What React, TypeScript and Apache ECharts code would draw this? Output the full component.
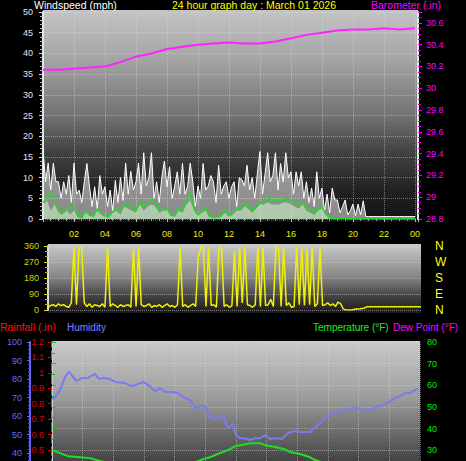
import React, { useEffect, useRef } from 'react';
import * as echarts from 'echarts';

const FONT = '"Liberation Sans", Arial, sans-serif';

// ---- Top panel: wind (10-min gust, 15-min average) and barometer ----
const gustStepMin = 10;
const gust = [
  17, 9, 13.5, 7, 13.5, 9,
  9, 5, 9, 6, 10.5, 4,
  13.5, 6, 7, 4, 9, 13.4,
  7.8, 3, 7.8, 2.5, 10.5, 6,
  7.8, 3, 7, 2, 9.3, 4,
  10, 4.5, 13.5, 6, 11.5, 7,
  9, 13.5, 6, 16, 8, 10,
  16, 5, 9, 4, 10, 14,
  7.8, 12.6, 5, 8, 11.4, 6,
  13.4, 6, 8, 13.5, 9, 3,
  8, 5, 13.4, 7, 8, 10.5,
  9, 4, 13, 6, 8, 9,
  5, 7.8, 9, 3, 10, 9.5,
  8, 13, 7, 10, 5, 11,
  16.3, 6, 11, 16, 9, 10.5,
  16, 7, 13.4, 9, 16, 10,
  11.4, 6, 11.4, 8, 11.4, 5,
  9, 4, 7.5, 3, 11.4, 5,
  7.5, 2, 6, 1.5, 7.5, 4.6,
  4.6, 1.5, 3, 4.6, 1, 2,
  3.6, 0.8, 3.6, 1, 4.4, 0.6,
  0.6, 0.6, 0.6, 0.6, 0.6, 0.6,
  0.6, 0.6, 0.6, 0.6, 0.6, 0.6,
  0.6, 0.6, 0.6, 0.6, 0.6, 0.6,
  0.6,
];

const avgStepMin = 15;
const windAvgFill = [
  3, 4.5, 2, 3.5,
  1.5, 1, 2.5, 1,
  2, 0.5, 0.3, 1.5,
  0.8, 0.5, 2, 1,
  0.5, 0.3, 1.5, 2,
  1, 3, 2.5, 2,
  1.5, 3.5, 2, 3,
  3.5, 3, 1.5, 2,
  2, 0.8, 0.5, 2,
  1.5, 3.5, 4.5, 2,
  0.8, 1.5, 2, 0.5,
  0.3, 0.3, 0.5, 1.5,
  0.5, 1, 2, 2,
  3, 2.5, 1.5, 2.5,
  3.5, 3.5, 4, 3.5,
  3.5, 3.5, 4, 4,
  3.5, 3, 2.5, 3.5,
  2, 1.5, 1, 2,
  2.5, 1, 0.2, 0.1,
  0, 0, 0, 0,
  0, 0, 0, 0,
  0, 0, 0, 0,
  0, 0, 0, 0,
  0, 0, 0, 0,
  0,
];

const windAvgLine = [
  4.0, 5, 6.2, 5,
  2.2, 1.5, 2.0, 2.8,
  3, 0.6, 0.2, 2.0,
  1, 0.6, 2.4, 1.5,
  0.8, 0.5, 1.8, 2.2,
  1.8, 3.6, 3.4, 2.6,
  2.0, 4.2, 3, 3.6,
  4.6, 4.0, 2.2, 2.4,
  2.8, 1, 0.8, 2.6,
  2.0, 4.5, 6.2, 2.5,
  1, 1.8, 2.6, 0.6,
  0.3, 0.4, 0.8, 2.2,
  0.8, 1.5, 2.8, 2.6,
  3.8, 3.0, 1.8, 3.2,
  4.0, 4.2, 5.4, 4.2,
  4.6, 4.4, 4.6, 5,
  4.6, 3.8, 3.2, 4.2,
  2.4, 2.2, 1.2, 2.4,
  3, 1.2, 0.2, 0.1,
  0, 0.3, 0.2, 0,
  0, 0, 0, 0,
  0, 0, 0, 0,
  0, 0, 0, 0,
  0, 0, 0, 0,
  0,
];

const baroHours = [0, 1, 2, 3, 4, 5, 6, 7, 7.5, 8, 9, 10, 11, 12, 13, 14, 15, 16, 17, 18, 19, 20, 21, 22, 23, 24];
const baroValues = [30.17, 30.17, 30.18, 30.19, 30.2, 30.24, 30.29, 30.32, 30.34, 30.36, 30.38, 30.4, 30.41, 30.42, 30.41, 30.41, 30.43, 30.46, 30.49, 30.51, 30.53, 30.54, 30.54, 30.55, 30.54, 30.55];

const hourTickLabels = ['00', '02', '04', '06', '08', '10', '12', '14', '16', '18', '20', '22', '00'];

// ---- Middle panel: wind direction (10-min) ----
const dirStepMin = 10;
const windDir = [
  15, 25, 30, 20, 35, 25,
  30, 20, 15, 40, 350, 30,
  355, 350, 40, 20, 35, 15,
  30, 25, 20, 35, 15, 355,
  20, 35, 25, 15, 30, 20,
  25, 30, 15, 345, 20, 350,
  30, 20, 25, 35, 15, 25,
  20, 30, 15, 25, 35, 20,
  25, 15, 30, 350, 20, 30,
  15, 25, 35, 20, 300, 350,
  355, 20, 350, 25, 30, 15,
  345, 355, 20, 30, 15, 25,
  330, 20, 350, 40, 355, 30,
  25, 15, 30, 355, 20, 350,
  25, 30, 60, 20, 355, 350,
  20, 350, 25, 40, 15, 20,
  355, 30, 350, 25, 345, 30,
  355, 20, 35, 350, 25, 30,
  40, 25, 35, 20, 45, 35,
  5, 2, 0, 0, 3, 5,
  5, 8, 10, 18, 18, 18,
  18, 18, 18, 18, 18, 18,
  18, 18, 18, 18, 18, 18,
  18, 18, 18, 18, 18, 18,
  18,
];
const compassLabels = ['N', 'E', 'S', 'W', 'N'];

// ---- Bottom panel: humidity, rainfall, temperature, dew point ----
const humHours = [0, 0.2, 0.52, 0.85, 1.11, 1.3, 1.57, 1.96, 2.35, 2.54, 2.8, 3.07, 3.33, 3.78, 4.11, 4.76, 5.22, 5.61, 5.94, 6.39, 6.72, 7.05, 7.37, 7.83, 8.22, 8.55, 9.0, 9.33, 9.65, 9.98, 10.3, 10.63, 10.96, 11.15, 11.48, 11.68, 11.81, 12.0, 12.26, 12.59, 12.92, 13.24, 13.57, 13.9, 14.22, 14.55, 15.0, 15.39, 15.85, 16.18, 16.5, 16.83, 17.16, 17.48, 17.81, 18.13, 18.46, 18.79, 19.11, 19.44, 19.77, 20.09, 20.42, 20.74, 21.07, 21.4, 21.72, 22.05, 22.37, 22.7, 23.03, 23.35, 23.68, 23.87];
const humValues = [69.2, 70, 74, 81, 84, 82, 79, 80.5, 80.5, 81.6, 82.7, 80, 80.5, 80, 78.4, 77.8, 76, 77.3, 78.4, 76, 73.5, 75, 73, 73, 72.4, 70.3, 68.6, 64, 65.4, 65, 59.5, 58.4, 59.5, 60.5, 53.5, 55, 56, 49.7, 48, 48, 47, 48, 48, 49.7, 47.6, 48, 47.6, 50.8, 52, 51.4, 51.4, 51.4, 54, 56, 59, 60.5, 61.6, 63.2, 63.2, 63.8, 64.3, 63.8, 63.2, 62.7, 64.9, 65.4, 66.5, 68, 69.7, 70.8, 72.4, 72.4, 74, 75];

const tempHours = [0, 0.52, 1.04, 1.83, 2.48, 3.13, 3.78, 5.09, 6.39, 7.7, 9.0, 9.85, 10.3, 10.96, 11.61, 11.81, 12.26, 12.92, 13.57, 13.9, 14.55, 15.2, 15.52, 16.18, 16.83, 17.16, 17.8, 18.8, 20.1, 21.4, 22.7, 23.87];
const tempValues = [30, 28.6, 27.2, 26.7, 26.3, 25, 24, 23, 22.5, 22.5, 23.5, 25.8, 26.7, 28.6, 30.4, 31.4, 32.3, 33.2, 33.2, 32.3, 31.4, 30.4, 29.1, 28.2, 26.7, 25.4, 24, 22.5, 21, 20, 19, 18.5];

const dewHours = [0, 3, 6, 9, 12, 15, 18, 21, 24];
const dewValues = [20, 19, 18, 18, 17, 16, 16, 17, 17];

const rainHours = [0, 6, 12, 18, 24];
const rainValues = [0, 0, 0, 0, 0];

const stepPairs = (vals: number[], stepMin: number) => vals.map((v, i) => [(i * stepMin) / 60, v]);
const zipPairs = (hs: number[], vs: number[]) => hs.map((h, i) => [h, vs[i]]);

export default function App() {
  const ref = useRef<HTMLDivElement>(null);
  useEffect(() => {
    if (!ref.current) return;
    const chart = echarts.init(ref.current, undefined, { renderer: 'svg' });
    const grad = (stops: [number, string][]) =>
      new echarts.graphic.LinearGradient(0, 0, 0, 1, stops.map(([offset, color]) => ({ offset, color })));
    const dotted = { type: 'dotted' as const, color: 'rgba(225,225,225,0.45)', width: 1 };
    const hiddenX = (gridIndex: number, min: number, max: number) => ({
      type: 'value', gridIndex, min, max,
      axisLine: { show: false }, axisTick: { show: false }, axisLabel: { show: false }, splitLine: { show: false },
    });
    const g = (left: number, top: number, width: number, height: number) => ({
      left, top, width, height, containLabel: false, outerBoundsMode: 'none',
    });
    const fmtAbove = (lo: number) => (v: number) => (v < lo ? '' : String(+v.toFixed(2)));

    const option: any = {
      animation: false,
      backgroundColor: '#000',
      textStyle: { fontFamily: FONT },
      grid: [g(43, 12, 375, 207), g(48, 246, 373, 64), g(52, 342, 368, 185), g(52, 342, 368, 173)],
      xAxis: [
        {
          type: 'value', gridIndex: 0, min: 0, max: 24.2, interval: 2,
          axisLine: { show: false },
          axisTick: { show: true, length: 3, lineStyle: { color: '#bbb' } },
          minorTick: { show: true, splitNumber: 4, length: 2, lineStyle: { color: '#999' } },
          axisLabel: {
            color: '#f0f000', fontSize: 9, fontFamily: FONT, margin: 10,
            formatter: (v: number) => (v > 0 && v <= 24 && Math.abs(v % 2) < 1e-6 ? hourTickLabels[Math.round(v / 2)] : ''),
          },
          splitLine: { show: true, lineStyle: dotted },
        },
        hiddenX(1, 0, 24),
        {
          type: 'value', gridIndex: 2, min: 0, max: 24, interval: 2,
          axisLine: { show: false }, axisTick: { show: false }, axisLabel: { show: false },
          splitLine: { show: true, lineStyle: dotted },
        },
        hiddenX(3, 0, 24),
      ],
      yAxis: [
        {
          type: 'value', gridIndex: 0, min: 0, max: 50, interval: 5, position: 'left',
          axisLine: { show: true, lineStyle: { color: '#e8e8e8', width: 2 } },
          axisTick: { show: true, length: 4, lineStyle: { color: '#ddd' } },
          minorTick: { show: true, splitNumber: 5, length: 3, lineStyle: { color: '#bbb' } },
          axisLabel: { color: '#e4e4f0', fontSize: 9, fontFamily: FONT, margin: 10 },
          splitLine: { show: true, lineStyle: dotted },
        },
        {
          type: 'value', gridIndex: 0, min: 28.8, max: 30.7, interval: 0.2, position: 'right',
          axisLine: { show: true, lineStyle: { color: '#e8e8e8', width: 2 } },
          axisTick: { show: true, length: 4, lineStyle: { color: '#ff00ff' } },
          minorTick: { show: true, splitNumber: 4, length: 3, lineStyle: { color: '#cc00cc' } },
          axisLabel: {
            color: '#ff00ff', fontSize: 9, fontFamily: FONT, margin: 8,
            formatter: (v: number) => (v > 30.65 ? '' : String(+v.toFixed(2))),
          },
          splitLine: { show: false },
        },
        {
          type: 'value', gridIndex: 1, min: 0, max: 360, interval: 90, position: 'left',
          axisLine: { show: true, lineStyle: { color: '#dddddd', width: 2 } },
          axisTick: { show: true, length: 4, lineStyle: { color: '#d8d800' } },
          minorTick: { show: true, splitNumber: 3, length: 3, lineStyle: { color: '#b8b800' } },
          axisLabel: { color: '#d0d400', fontSize: 9, fontFamily: FONT, margin: 9 },
          splitLine: { show: true, lineStyle: dotted },
        },
        {
          type: 'value', gridIndex: 1, min: 0, max: 360, interval: 90, position: 'right',
          axisLine: { show: false }, axisTick: { show: false }, splitLine: { show: false },
          axisLabel: {
            color: '#ffff00', fontSize: 12, fontFamily: FONT, margin: 14,
            formatter: (v: number) => compassLabels[Math.round(v / 90)] ?? '',
          },
        },
        {
          type: 'value', gridIndex: 2, min: 0, max: 1.2, interval: 0.1, position: 'left', offset: 0,
          axisLine: { show: true, lineStyle: { color: '#ff2a2a', width: 2, type: 'dashed' } },
          axisTick: { show: true, length: 4, lineStyle: { color: '#e00000' } },
          axisLabel: { color: '#e00000', fontSize: 9, fontFamily: FONT, margin: 8, formatter: fmtAbove(0.45) },
          splitLine: { show: false },
        },
        {
          type: 'value', gridIndex: 2, min: 0, max: 100, interval: 10, position: 'left', offset: 22,
          axisLine: { show: true, lineStyle: { color: '#6464ff', width: 2 } },
          axisTick: { show: true, length: 3, lineStyle: { color: '#6464ff' } },
          minorTick: { show: true, splitNumber: 5, length: 2, lineStyle: { color: '#5050dd' } },
          axisLabel: { color: '#6a6aff', fontSize: 9, fontFamily: FONT, margin: 8, formatter: fmtAbove(35) },
          splitLine: { show: false },
        },
        {
          type: 'value', gridIndex: 3, min: 0, max: 80, interval: 10, position: 'right',
          axisLine: { show: true, lineStyle: { color: '#cccccc', width: 1 } },
          axisTick: { show: true, length: 4, lineStyle: { color: '#00dd00' } },
          minorTick: { show: true, splitNumber: 2, length: 3, lineStyle: { color: '#00bb00' } },
          axisLabel: { color: '#00ee00', fontSize: 9, fontFamily: FONT, margin: 7, formatter: fmtAbove(25) },
          splitLine: { show: true, lineStyle: dotted },
        },
      ],
      series: [
        {
          name: 'Gust', type: 'line', xAxisIndex: 0, yAxisIndex: 0, symbol: 'none',
          data: stepPairs(gust, gustStepMin),
          lineStyle: { color: '#ffffff', width: 1 },
          areaStyle: { color: 'rgba(255,255,255,0.72)' },
          z: 2,
        },
        {
          name: 'Wind speed', type: 'line', xAxisIndex: 0, yAxisIndex: 0, symbol: 'none',
          data: stepPairs(windAvgFill, avgStepMin),
          lineStyle: { width: 0 },
          areaStyle: { color: 'rgba(196,238,196,0.9)' },
          z: 3,
        },
        {
          name: 'Average', type: 'line', xAxisIndex: 0, yAxisIndex: 0, symbol: 'none',
          data: stepPairs(windAvgLine, avgStepMin),
          lineStyle: { color: '#1ee01e', width: 1.5 },
          z: 4,
        },
        {
          name: 'Barometer', type: 'line', xAxisIndex: 0, yAxisIndex: 1, symbol: 'none',
          data: zipPairs(baroHours, baroValues),
          lineStyle: { color: '#ff22ff', width: 2 },
          z: 5,
        },
        {
          name: 'Direction', type: 'line', xAxisIndex: 1, yAxisIndex: 2, symbol: 'none',
          data: stepPairs(windDir, dirStepMin),
          lineStyle: { color: '#f0f000', width: 1.5 },
        },
        {
          name: 'Rainfall', type: 'line', xAxisIndex: 2, yAxisIndex: 4, symbol: 'none',
          data: zipPairs(rainHours, rainValues),
          lineStyle: { color: '#ff0000', width: 2 },
        },
        {
          name: 'Humidity', type: 'line', xAxisIndex: 2, yAxisIndex: 5, symbol: 'none',
          data: zipPairs(humHours, humValues),
          lineStyle: { color: '#7a7af4', width: 2 },
        },
        {
          name: 'Temperature', type: 'line', xAxisIndex: 3, yAxisIndex: 6, symbol: 'none',
          data: zipPairs(tempHours, tempValues),
          lineStyle: { color: '#1ee01e', width: 2 },
        },
        {
          name: 'Dew Point', type: 'line', xAxisIndex: 3, yAxisIndex: 6, symbol: 'none',
          data: zipPairs(dewHours, dewValues),
          lineStyle: { color: '#ff00ff', width: 2 },
        },
      ],
      graphic: {
        elements: [
          {
            type: 'rect', z: -10, silent: true,
            shape: { x: 43, y: 10, width: 375, height: 212 },
            style: { fill: grad([[0, '#c4c4c4'], [0.25, '#a2a2a2'], [0.5, '#727272'], [0.68, '#404040'], [0.85, '#222222'], [1, '#121212']]) },
          },
          {
            type: 'rect', z: -10, silent: true,
            shape: { x: 48, y: 244, width: 373, height: 69 },
            style: { fill: grad([[0, '#cacaca'], [0.45, '#8a8a8a'], [0.8, '#3a3a3a'], [1, '#1a1a1a']]) },
          },
          {
            type: 'rect', z: -10, silent: true,
            shape: { x: 52, y: 341, width: 368, height: 190 },
            style: { fill: grad([[0, '#cacaca'], [0.3, '#9c9c9c'], [0.63, '#444444'], [1, '#101010']]) },
          },
          { type: 'text', x: 34, y: 5, z: 10, style: { text: 'Windspeed (mph)', fill: '#ffffff', font: `10.5px ${FONT}`, verticalAlign: 'middle' } },
          { type: 'text', x: 172, y: 5, z: 10, style: { text: '24 hour graph day : March 01 2026', fill: '#ffff00', font: `10.5px ${FONT}`, verticalAlign: 'middle' } },
          { type: 'text', x: 371, y: 5, z: 10, style: { text: 'Barometer (.in)', fill: '#ff00ff', font: `10.5px ${FONT}`, verticalAlign: 'middle' } },
          { type: 'text', x: 0, y: 327, z: 10, style: { text: 'Rainfall (.in)', fill: '#ff1010', font: `10.5px ${FONT}`, verticalAlign: 'middle' } },
          { type: 'text', x: 67, y: 327, z: 10, style: { text: 'Humidity', fill: '#8080ff', font: `10px ${FONT}`, verticalAlign: 'middle' } },
          { type: 'text', x: 313, y: 327, z: 10, style: { text: 'Temperature (°F)', fill: '#22ee22', font: `10px ${FONT}`, verticalAlign: 'middle' } },
          { type: 'text', x: 393, y: 327, z: 10, style: { text: 'Dew Point (°F)', fill: '#ff00ff', font: `10px ${FONT}`, verticalAlign: 'middle' } },
        ],
      },
    };
    chart.setOption(option);
    return () => chart.dispose();
  }, []);
  return (
    <div style={{ position: 'fixed', left: 0, top: 0, width: 466, height: 461, background: '#000', overflow: 'hidden' }}>
      <div ref={ref} style={{ width: 466, height: 560 }} />
    </div>
  );
}
